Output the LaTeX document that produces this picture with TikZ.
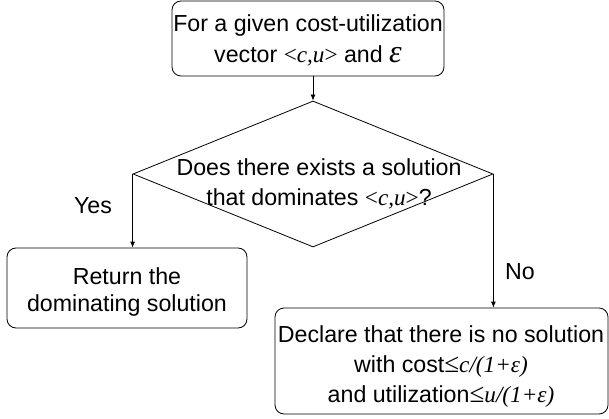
\documentclass[tikz,border=0pt]{standalone}
\usepackage{fontspec}
\setmainfont{Liberation Sans}
\newfontfamily\tms{Liberation Serif}
\usetikzlibrary{shapes.geometric,arrows.meta}
\newcommand{\myle}{{\tms\fontsize{27}{30}\selectfont ≤}}
\begin{document}
\begin{tikzpicture}[x=1pt,y=-1pt,
  box/.style={draw,rounded corners=9pt,line width=0.8pt,inner sep=0pt},
  txt/.style={align=center,inner sep=0pt,font=\fontsize{23.2}{30}\selectfont},
  arr/.style={line width=0.8pt,-{Latex[length=6pt,width=5pt]}}]
\useasboundingbox (0,0) rectangle (609,419);
\node[box,minimum width=272pt,minimum height=75pt] (top) at (308,38.5) {};
\node[draw,line width=0.8pt,shape=diamond,inner sep=0pt,minimum width=360pt,minimum height=146pt] (dia) at (313,174) {};
\node[box,minimum width=240pt,minimum height=80pt] (ret) at (127,288) {};
\node[box,minimum width=333pt,minimum height=106pt] (dec) at (441.5,361) {};
\node[txt] (ttop) at (308,40) {For a given cost-utilization\\[1pt] vector {\tms<\textit{c,u}>} and {\tms\itshape\fontsize{32}{30}\selectfont ε}};
\node[txt] (tdia) at (319,184) {Does there exists a solution\\that dominates {\tms<\textit{c,u}>}?};
\node[txt,font=\fontsize{23.2}{27}\selectfont] (tret) at (127,292) {Return the\\dominating solution};
\node[txt] (tdec) at (441,367) {Declare that there is no solution\\with cost\myle{\tms\textit{c/(1+ε)}}\\and utilization\myle{\tms\textit{u/(1+ε)}}};
\node[txt] (yes) at (93,206) {Yes};
\node[txt] (no) at (520,272) {No};
\draw[arr] (top.south -| dia.north) -- (dia.north);
\draw[arr] (dia.west) -- (dia.west |- ret.north);
\draw[arr] (dia.east) -- (dia.east |- dec.north);
\end{tikzpicture}
\end{document}
